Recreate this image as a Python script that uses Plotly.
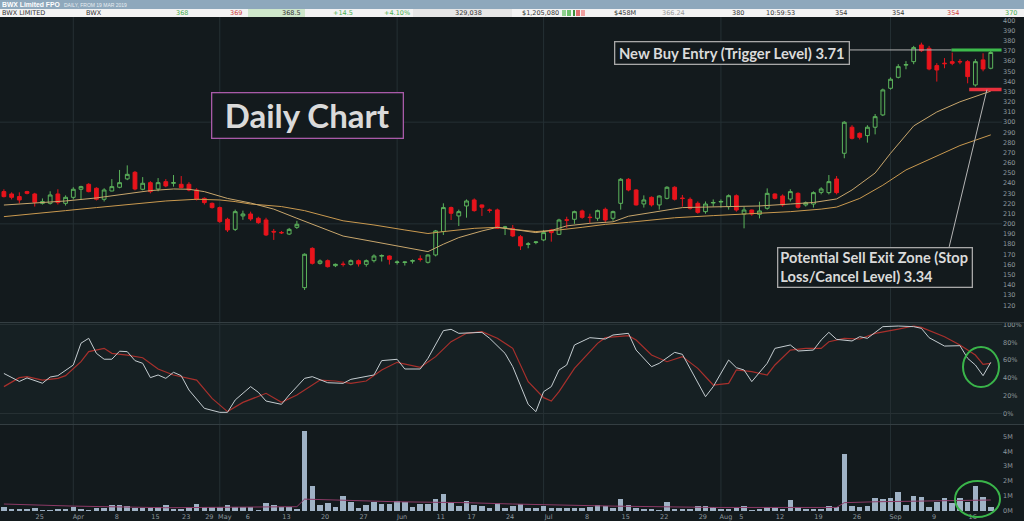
import plotly.graph_objects as go
from plotly.subplots import make_subplots

# ---------------- data ----------------
IDX = list(range(129))
OPEN = [231.7,229.4,226.8,231.7,229.4,220.2,220.2,229.4,220.2,226.1,234.0,238.9,235.0,224.2,232.3,236.0,244.2,250.7,234.0,240.5,
        234.3,241.5,239.9,238.9,238.9,233.3,225.1,220.2,216.0,204.5,194.6,207.8,209.7,205.5,203.8,192.6,191.6,190.0,196.6,137.3,
        175.9,161.2,163.8,158.9,160.5,160.2,163.8,160.2,163.8,168.2,168.4,162.0,162.0,163.3,165.6,162.2,169.4,192.4,216.0,207.8,
        217.6,223.5,218.6,213.7,213.7,196.4,195.6,187.4,179.8,181.7,184.2,194.0,189.7,204.0,204.5,212.7,206.6,205.5,214.3,205.5,
        220.2,243.8,233.3,219.6,226.1,218.6,225.1,236.0,225.4,224.1,220.2,212.0,220.5,221.5,216.9,227.7,209.7,213.6,209.4,215.3,
        229.4,227.4,224.4,230.0,218.6,219.5,231.0,230.7,244.1,269.4,295.0,289.0,286.8,295.0,307.1,333.3,344.1,356.1,359.5,375.9,
        372.6,355.6,358.0,359.5,359.7,359.5,336.6,361.2,353.0]
HIGH = [234.0,231.0,231.0,232.5,230.5,225.0,232.0,234.0,228.0,236.0,237.5,240.0,236.0,235.0,244.0,253.0,257.5,252.0,246.0,242.0,
        245.0,244.0,248.0,247.0,241.0,235.0,226.0,221.0,217.0,206.0,214.0,213.0,212.0,207.0,206.0,195.0,193.0,196.0,203.0,171.0,
        177.0,165.0,165.0,161.0,163.0,165.0,165.0,165.0,170.0,170.0,169.0,164.0,163.0,165.0,169.0,170.0,194.0,220.2,217.0,214.0,
        224.0,225.0,219.0,215.0,215.0,198.0,198.9,189.0,182.0,183.0,194.0,195.0,205.0,207.0,213.0,214.0,210.0,214.0,216.0,213.0,
        245.0,245.0,234.0,228.0,227.0,228.0,237.0,237.0,228.4,226.0,222.0,222.0,224.0,224.0,229.0,229.0,216.9,214.0,221.8,234.9,
        230.0,229.0,234.0,231.0,222.0,232.0,236.0,248.0,247.0,301.0,297.0,290.0,297.0,308.0,333.0,344.0,357.0,360.0,375.0,378.2,
        375.0,358.0,363.0,368.4,362.0,361.0,362.0,367.7,370.0]
LOW = [226.0,224.0,220.2,229.0,217.0,219.0,219.0,219.0,218.0,224.0,223.5,231.0,223.0,222.0,232.0,235.0,243.0,233.0,233.0,230.0,
       232.0,236.0,236.6,235.0,232.0,223.0,219.0,215.0,201.0,192.0,193.0,204.0,203.0,200.0,188.0,184.2,190.0,189.0,195.0,135.0,
       160.0,160.0,157.0,157.5,158.0,159.0,158.0,157.9,162.0,163.0,160.0,160.0,159.0,161.0,163.0,161.0,168.0,189.1,203.8,197.9,
       206.1,212.0,207.8,211.0,195.0,189.0,187.0,174.3,176.0,180.0,183.0,182.5,189.0,196.0,200.0,205.0,201.0,203.0,201.0,203.0,
       214.0,232.0,218.0,216.0,217.0,214.0,224.0,223.0,216.9,214.0,210.0,210.0,217.0,216.0,214.0,212.0,195.6,208.0,205.4,214.0,
       224.0,217.0,222.0,215.0,217.0,216.0,229.0,229.0,229.0,264.5,283.0,283.0,279.9,288.0,306.0,332.0,343.0,352.0,357.0,369.0,
       351.0,339.9,353.0,356.0,357.0,338.2,335.0,350.0,352.0]
CLOSE = [226.8,226.1,223.5,230.0,221.2,221.9,228.4,220.9,226.1,234.0,236.6,231.7,224.2,233.3,236.6,240.5,248.7,234.3,239.9,231.7,
         240.5,237.3,240.5,235.6,233.3,224.2,220.9,216.0,202.2,194.0,212.0,209.7,204.8,201.2,189.1,192.0,191.2,194.6,199.6,170.1,
         161.2,163.5,157.9,160.2,160.0,163.8,160.6,163.8,168.4,168.9,165.1,162.5,162.5,163.8,165.0,169.4,193.0,216.0,210.4,212.0,
         222.5,213.0,216.3,213.3,195.6,196.9,188.1,178.3,180.3,182.2,191.4,191.4,203.8,203.6,212.0,206.4,206.2,213.0,203.8,212.0,
         243.8,233.3,218.6,223.5,218.6,227.4,236.0,224.2,224.9,215.3,211.3,219.5,221.0,222.0,227.7,213.6,213.6,209.7,212.7,230.0,
         225.1,218.6,231.7,216.3,220.8,230.7,234.3,241.5,230.7,299.9,284.1,285.1,295.0,305.4,331.7,342.2,354.6,356.6,373.3,370.3,
         352.3,351.3,357.5,357.9,359.3,344.8,359.5,352.3,368.5]
VOLUME_M = [0.22,0.13,0.13,0.09,0.20,0.07,0.07,0.13,0.13,0.22,0.13,0.05,0.20,0.20,0.36,0.36,0.29,0.20,0.16,0.16,
            0.22,0.36,0.13,0.09,0.27,0.45,0.22,0.22,0.27,0.38,0.27,0.22,0.22,0.05,0.51,0.38,0.22,0.27,0.13,5.37,
            1.66,0.38,0.49,0.22,0.98,0.58,0.18,0.38,0.60,0.43,0.45,0.65,0.58,0.27,0.45,0.45,0.78,1.12,0.56,0.31,
            0.65,0.36,0.31,0.20,0.49,0.18,0.31,0.45,0.20,0.20,0.31,0.20,0.20,0.16,0.20,0.18,0.27,0.38,0.31,0.16,
            0.78,0.36,0.20,0.11,0.11,0.05,0.56,0.11,0.11,0.13,0.31,0.29,0.22,0.11,0.13,0.16,0.31,0.05,0.09,0.27,
            0.16,0.11,0.72,0.22,0.09,0.09,0.09,0.31,0.22,3.85,0.31,0.27,0.31,0.87,0.78,0.83,1.28,0.38,1.01,0.89,
            0.27,0.60,0.87,0.54,0.83,0.60,1.68,0.89,0.27]

MA_FAST_X = [0,4,8,12,16,19,22,24,26,29,32,35,38,41,44,48,52,55,57,59,62,64,66,69,71,73,76,79,81,85,88,94,98,102,105,108,110,113,115,118,121,124,126,128]
MA_FAST_Y = [218.5,220.3,222.5,225.5,230,232.7,234.3,234,231.7,225,220.5,214.5,205.5,196.6,188,182.5,177,172.7,180,186.5,193,196.6,194.6,191.4,193.5,198,200.5,202,207.5,212.5,216,217,217.6,219.5,221,224.5,233.3,250,269.4,296.3,310,320,325.5,330.5]
MA_SLOW_X = [0,4,8,12,17,21,25,28,30,32,36,39,44,48,52,55,57,59,61,64,66,69,72,75,78,81,83,87,92,98,102,106,108,111,114,117,121,124,128]
MA_SLOW_Y = [207.1,210.4,213,216,219.6,222.5,224.2,223.5,221.9,219.5,217,213,203,198.9,194,190.5,192.4,194,195.6,196.6,194.6,192.4,194,196.6,199.5,201.5,203,206,208.1,210.4,212,214.5,216.5,225,238,253,267,277,287.5]

STOCH_K_X = [0,2,3,5,6,7,9,10,11,12,13,14,15,16,17,18,19,20,21,22,23,24,26,28,29,30,32,33,34,36,37,39,40,42,44,45,48,49,51,52,54,55,57,58,59,62,63,65,66,68,69,70,71,72,73,74,76,78,79,81,82,84,85,87,88,90,91,92,94,95,96,97,99,100,102,103,105,106,107,108,110,111,112,114,116,118,119,120,122,124,125,126,127,128]
STOCH_K_Y = [45,36,40,34,41,42.5,54.5,79,84.5,67.6,61,61,70,69.5,59.4,56.4,40.3,43.3,39.5,46.3,42.5,26.4,5.8,1.3,1.3,15.2,30.2,23.8,14,10.3,20.8,39.5,41.4,34.6,33.9,38.4,43.3,59.4,60.9,50,50,62,93.1,94.6,90.1,91.2,84.5,67.6,52.6,10.3,2.1,24.5,30.2,48.9,54.5,77,85.2,83.7,88.2,90.1,71.3,52.6,56.4,68.7,66.5,33.9,18.9,30.2,60.1,51.5,48.9,35.8,56.4,73.2,77,70.2,71.3,82.6,91.2,83.3,81.5,86.3,84.5,97.6,98.3,97.6,95.7,85.2,75.8,76.2,62,54.5,42.5,57.5]
STOCH_D_X = [0,2,3,5,7,8,10,11,13,14,16,18,20,22,25,27,29,31,34,36,38,41,43,45,47,49,51,54,56,58,60,62,64,66,68,70,71,72,74,77,78,81,82,84,86,88,90,92,94,95,97,99,100,102,104,106,107,109,111,113,116,118,119,122,124,126,127,128]
STOCH_D_Y = [30.2,40.3,41.4,37.6,39.5,42.5,58.2,69.5,73.2,67.6,65.7,62.7,50,43.3,37.6,17,2.1,12.5,22.7,12.5,20.8,37.6,36.5,33.9,36.5,48.9,57.5,51.9,63.9,80.7,90.1,92,84.5,73.2,35.8,17.8,14,24.5,50.7,78.8,85.2,87.5,82.6,65.7,58.2,63.9,50.7,32,33.9,48.9,47,43.3,54.5,71.3,73.2,73.2,80.7,84.5,83.7,90.1,94.9,98.3,96.8,86.3,77,65.7,55.2,56.4]

VOL_MA_X = [0,9,21,33,38,39,43,51,60,66,79,92,108,109,113,122,128]
VOL_MA_Y = [0.45,0.31,0.20,0.22,0.27,0.78,0.72,0.60,0.54,0.45,0.31,0.22,0.22,0.54,0.60,0.65,0.72]

TICK_IDX = [4,9,14,19,23,26,28,31,36,41,46,51,56,60,65,70,75,80,85,90,93,95,100,105,110,115,120,125]
TICK_TEXT = ["25","Apr","8","15","23","29","May","6","13","20","27","Jun","11","17","24","Jul","8","15","22","29","Aug","5","12","19","26","Sep","9","16"]
MONTH_START_IDX = [9,28,51,70,93,115]
PRICE_TICKS = list(range(120, 401, 10))
STOCH_TICKS = [0,20,40,60,80,100]
VOL_TICKS = [0,1,2,3,4,5]

TRIGGER_LEVEL = 371
STOP_LEVEL = 332

# ---------------- styling ----------------
W, H = 1024, 521
ML, MR, MT, MB = 0, 22, 17, 10
PW, PH = W - ML - MR, H - MT - MB
BOT = H - MB
BG = "#131a1d"
GREEN = "#5cb45c"
RED = "#e8141c"
AX_FONT = dict(family="DejaVu Sans", size=6.5, color="#8e989d")

def pxx(x):
    return (x - ML) / PW

def pxy(y):
    return (BOT - y) / PH

fig = make_subplots(rows=3, cols=1, shared_xaxes=True, vertical_spacing=0)

fig.add_trace(go.Candlestick(
    x=IDX, open=OPEN, high=HIGH, low=LOW, close=CLOSE,
    increasing=dict(line=dict(color=GREEN, width=1), fillcolor=BG),
    decreasing=dict(line=dict(color=RED, width=1), fillcolor=RED),
    whiskerwidth=0, showlegend=False, hoverinfo="skip"), row=1, col=1)
fig.add_trace(go.Scatter(x=MA_SLOW_X, y=MA_SLOW_Y, mode="lines",
                         line=dict(color="#c9994f", width=1), showlegend=False), row=1, col=1)
fig.add_trace(go.Scatter(x=MA_FAST_X, y=MA_FAST_Y, mode="lines",
                         line=dict(color="#c8a66c", width=1), showlegend=False), row=1, col=1)

fig.add_trace(go.Scatter(x=STOCH_D_X, y=STOCH_D_Y, mode="lines",
                         line=dict(color="#a8302c", width=1.2), showlegend=False), row=2, col=1)
fig.add_trace(go.Scatter(x=STOCH_K_X, y=STOCH_K_Y, mode="lines",
                         line=dict(color="#c4ccd0", width=1), showlegend=False), row=2, col=1)

fig.add_trace(go.Bar(x=IDX, y=VOLUME_M, width=0.72, marker=dict(color="#9fb2c5", line=dict(width=0)),
                     showlegend=False), row=3, col=1)
fig.add_trace(go.Scatter(x=VOL_MA_X, y=VOL_MA_Y, mode="lines",
                         line=dict(color="#8c3a66", width=1), showlegend=False), row=3, col=1)

xr = [-(3.9) / 7.71, (PW - 3.9) / 7.71]
common_x = dict(range=xr, showgrid=False, zeroline=False, showline=False, ticks="",
                rangeslider=dict(visible=False))
fig.update_xaxes(**common_x)
fig.update_xaxes(showticklabels=False, row=1, col=1)
fig.update_xaxes(showticklabels=False, row=2, col=1)
fig.update_xaxes(tickvals=[i + 0.65 for i in TICK_IDX], ticktext=TICK_TEXT, showticklabels=True,
                 tickfont=AX_FONT, row=3, col=1)

common_y = dict(side="right", showgrid=False, zeroline=False, showline=False, ticks="", tickfont=AX_FONT)
fig.update_yaxes(domain=[pxy(322), 1], range=[103.5, 403.4], tickvals=PRICE_TICKS,
                 ticktext=[str(v) for v in PRICE_TICKS], row=1, col=1, **common_y)
fig.update_yaxes(domain=[pxy(424), pxy(323)], range=[-11.8, 101.7], tickvals=STOCH_TICKS,
                 ticktext=[f"{v}%" for v in STOCH_TICKS], row=2, col=1, **common_y)
fig.update_yaxes(domain=[0, pxy(425)], range=[-0.02, 5.77], tickvals=VOL_TICKS,
                 ticktext=[f"{v}M" for v in VOL_TICKS], row=3, col=1, **common_y)

shapes = []
# stochastic panel tint
shapes.append(dict(type="rect", xref="paper", yref="paper", x0=0, x1=W / PW, y0=pxy(424), y1=pxy(323),
                   fillcolor="#162023", line=dict(width=0), layer="below"))
# month gridlines
for m in MONTH_START_IDX:
    shapes.append(dict(type="line", xref="x", yref="paper", x0=m, x1=m, y0=0, y1=1,
                       line=dict(color="#253034", width=1), layer="below"))
# price gridlines
for g in [200, 300]:
    shapes.append(dict(type="line", xref="paper", yref="y", x0=0, x1=1, y0=g, y1=g,
                       line=dict(color="#253034", width=1), layer="below"))
for g in [0, 100]:
    shapes.append(dict(type="line", xref="paper", yref="y2", x0=0, x1=1, y0=g, y1=g,
                       line=dict(color="#263033", width=1), layer="below"))
# panel separators
for yy in [322.5, 424.5]:
    shapes.append(dict(type="line", xref="paper", yref="paper", x0=0, x1=W / PW, y0=pxy(yy), y1=pxy(yy),
                       line=dict(color="#343e42", width=1)))
# header
shapes.append(dict(type="rect", xref="paper", yref="paper", x0=0, x1=W / PW, y0=pxy(9), y1=pxy(0),
                   fillcolor="#8ea8bc", line=dict(width=0)))
shapes.append(dict(type="rect", xref="paper", yref="paper", x0=0, x1=W / PW, y0=pxy(17), y1=pxy(9),
                   fillcolor="#f3f3f3", line=dict(width=0)))
shapes.append(dict(type="rect", xref="paper", yref="paper", x0=pxx(248), x1=pxx(305), y0=pxy(17), y1=pxy(9),
                   fillcolor="#cfe7cb", line=dict(width=0)))
shapes.append(dict(type="rect", xref="paper", yref="paper", x0=pxx(413), x1=pxx(512), y0=pxy(17), y1=pxy(9),
                   fillcolor="#e6e6e6", line=dict(width=0)))
for x0, x1, c in [(562, 566, "#8fd08f"), (567, 571, "#6cc06c"), (573, 575, "#3c8f3c"), (576, 580, "#e07070"), (581, 585, "#f0a0a0")]:
    shapes.append(dict(type="rect", xref="paper", yref="paper", x0=pxx(x0), x1=pxx(x1), y0=pxy(16), y1=pxy(10),
                       fillcolor=c, line=dict(width=0)))
# level bars
shapes.append(dict(type="line", xref="x", yref="y", x0=122.9, x1=129.4, y0=TRIGGER_LEVEL, y1=TRIGGER_LEVEL,
                   line=dict(color="#3dbb4c", width=3)))
shapes.append(dict(type="line", xref="x", yref="y", x0=125.2, x1=129.4, y0=STOP_LEVEL, y1=STOP_LEVEL,
                   line=dict(color="#e8303c", width=3.5)))
# leader lines
shapes.append(dict(type="line", xref="x", yref="y", x0=109.6, x1=122.9, y0=TRIGGER_LEVEL, y1=TRIGGER_LEVEL,
                   line=dict(color="#b4b4b4", width=1)))
shapes.append(dict(type="line", xref="x", yref="y", x0=127.5, x1=122.6, y0=STOP_LEVEL, y1=177.3,
                   line=dict(color="#b4b4b4", width=1)))
# circles
shapes.append(dict(type="circle", xref="paper", yref="paper", x0=pxx(963), x1=pxx(999), y0=pxy(387), y1=pxy(347),
                   line=dict(color="#3ab54a", width=2)))
shapes.append(dict(type="circle", xref="paper", yref="paper", x0=pxx(955), x1=pxx(1000), y0=pxy(517), y1=pxy(481),
                   line=dict(color="#3ab54a", width=2)))

ann = []
def box(text, cx, cy, w, h, size, border, align="center", pad=0, bold=True):
    ann.append(dict(text=text, xref="paper", yref="paper", x=pxx(cx), y=pxy(cy), xanchor="center",
                    yanchor="middle", showarrow=False, width=w - 2 - 2 * pad, height=h - 2 - 2 * pad,
                    borderpad=pad, bordercolor=border, borderwidth=1.3, bgcolor=BG, align=align,
                    font=dict(family="Lato", size=size, color="#dadada",
                              weight="bold" if bold else "normal")))

box("Daily Chart", 307, 116, 192, 46, 33, "#a85aa8")
box("New Buy Entry (Trigger Level) 3.71", 731.5, 53.5, 235, 23, 14.8, "#a8a8a8")
box("Potential Sell Exit Zone (Stop<br>Loss/Cancel Level) 3.34", 874.5, 267, 195, 40, 14.6, "#a8a8a8",
    align="left", pad=2)

def htxt(text, x, y, color="#333333", size=6.5, anchor="left", bold=False, family="DejaVu Sans"):
    ann.append(dict(text=text, xref="paper", yref="paper", x=pxx(x), y=pxy(y), xanchor=anchor,
                    yanchor="middle", showarrow=False,
                    font=dict(family=family, size=size, color=color, weight="bold" if bold else "normal")))

htxt("BWX Limited FPO", 0, 4.5, color="#ffffff", size=6.8, bold=True, family="Liberation Sans")
htxt("DAILY, FROM 19 MAR 2019", 62, 4.8, color="#e8eef2", size=5, family="Liberation Sans")
row_y = 13.2
htxt("BWX LIMITED", 0, row_y)
htxt("BWX", 84, row_y)
htxt("368", 190, row_y, color="#4caf50", anchor="right")
htxt("369", 244, row_y, color="#d04040", anchor="right")
htxt("368.5", 303, row_y, anchor="right")
htxt("+14.5", 355, row_y, color="#4caf50", anchor="right")
htxt("+4.10%", 412, row_y, color="#4caf50", anchor="right")
htxt("329,038", 484, row_y, anchor="right")
htxt("$1,205,080", 561, row_y, anchor="right")
htxt("$458M", 638, row_y, anchor="right")
htxt("366.24", 687, row_y, color="#999999", anchor="right")
htxt("380", 746, row_y, anchor="right")
htxt("10:59:53", 764, row_y)
htxt("354", 849, row_y, anchor="right")
htxt("354", 906, row_y, anchor="right")
htxt("354", 961, row_y, color="#d04040", anchor="right")
htxt("370", 1019, row_y, color="#4caf50", anchor="right")

fig.update_layout(width=W, height=H, margin=dict(l=ML, r=MR, t=MT, b=MB),
                  paper_bgcolor=BG, plot_bgcolor=BG, shapes=shapes, annotations=ann,
                  bargap=0, showlegend=False, xaxis_rangeslider_visible=False,
                  hovermode=False)

fig.write_html("out.html", config={"displayModeBar": False, "staticPlot": True},
               post_script="document.body.style.margin='0px';document.body.style.overflow='hidden';")
